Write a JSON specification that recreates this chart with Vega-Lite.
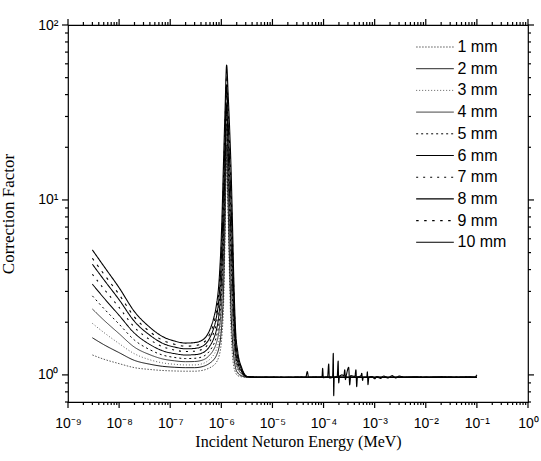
{
  "$schema": "https://vega.github.io/schema/vega-lite/v6.json",
  "width": 460,
  "height": 377,
  "autosize": {"type": "none"},
  "padding": {"left": 68, "top": 25, "right": 13, "bottom": 59},
  "background": "white",
  "config": {
    "view": {"stroke": "black", "strokeWidth": 1.2},
    "axis": {"domainColor": "black", "domainWidth": 1.2, "labelColor": "black", "titleColor": "black", "grid": false, "labelOverlap": false, "labelBound": false, "labelFlush": false},
    "legend": {"orient": "none", "legendX": 347.5, "legendY": 14, "title": null, "padding": 0, "symbolType": "stroke", "symbolSize": 1420, "clipHeight": 16, "labelFont": "Liberation Sans", "labelFontSize": 16, "labelColor": "black", "rowPadding": 5.7, "labelOffset": 3}
  },
  "datasets": {
    "curves": [
      {"E":3e-9,"F":1.30,"s":"1 mm"},{"E":5e-9,"F":1.23,"s":"1 mm"},{"E":1e-8,"F":1.16,"s":"1 mm"},{"E":2e-8,"F":1.10,"s":"1 mm"},{"E":4e-8,"F":1.074,"s":"1 mm"},{"E":7e-8,"F":1.06,"s":"1 mm"},{"E":1.2e-7,"F":1.053,"s":"1 mm"},{"E":2e-7,"F":1.05,"s":"1 mm"},{"E":3e-7,"F":1.05,"s":"1 mm"},{"E":4.5e-7,"F":1.065,"s":"1 mm"},{"E":6e-7,"F":1.10,"s":"1 mm"},{"E":7e-7,"F":1.13,"s":"1 mm"},{"E":8e-7,"F":1.18,"s":"1 mm"},{"E":9e-7,"F":1.28,"s":"1 mm"},{"E":9.7e-7,"F":1.42,"s":"1 mm"},{"E":1.03e-6,"F":1.70,"s":"1 mm"},{"E":1.1e-6,"F":2.40,"s":"1 mm"},{"E":1.18e-6,"F":6.0,"s":"1 mm"},{"E":1.27e-6,"F":18,"s":"1 mm"},{"E":1.36e-6,"F":8.0,"s":"1 mm"},{"E":1.45e-6,"F":3.5,"s":"1 mm"},{"E":1.55e-6,"F":1.80,"s":"1 mm"},{"E":1.65e-6,"F":1.30,"s":"1 mm"},{"E":1.75e-6,"F":1.12,"s":"1 mm"},{"E":1.9e-6,"F":1.03,"s":"1 mm"},{"E":2.1e-6,"F":0.99,"s":"1 mm"},{"E":2.5e-6,"F":0.975,"s":"1 mm"},{"E":3.2e-6,"F":0.97,"s":"1 mm"},{"E":5e-6,"F":0.97,"s":"1 mm"},{"E":1e-5,"F":0.968,"s":"1 mm"},{"E":1e-4,"F":0.97,"s":"1 mm"},{"E":1e-3,"F":0.968,"s":"1 mm"},{"E":1e-2,"F":0.97,"s":"1 mm"},{"E":0.1,"F":0.97,"s":"1 mm"},

      {"E":3e-9,"F":1.63,"s":"2 mm"},{"E":5e-9,"F":1.49,"s":"2 mm"},{"E":1e-8,"F":1.34,"s":"2 mm"},{"E":2e-8,"F":1.21,"s":"2 mm"},{"E":4e-8,"F":1.151,"s":"2 mm"},{"E":7e-8,"F":1.12,"s":"2 mm"},{"E":1.2e-7,"F":1.106,"s":"2 mm"},{"E":2e-7,"F":1.10,"s":"2 mm"},{"E":3e-7,"F":1.10,"s":"2 mm"},{"E":4.5e-7,"F":1.12,"s":"2 mm"},{"E":6e-7,"F":1.17,"s":"2 mm"},{"E":7e-7,"F":1.216,"s":"2 mm"},{"E":8e-7,"F":1.29,"s":"2 mm"},{"E":9e-7,"F":1.435,"s":"2 mm"},{"E":9.7e-7,"F":1.642,"s":"2 mm"},{"E":1.03e-6,"F":2.03,"s":"2 mm"},{"E":1.1e-6,"F":2.98,"s":"2 mm"},{"E":1.18e-6,"F":7.27,"s":"2 mm"},{"E":1.27e-6,"F":20.6,"s":"2 mm"},{"E":1.36e-6,"F":9.62,"s":"2 mm"},{"E":1.45e-6,"F":4.40,"s":"2 mm"},{"E":1.55e-6,"F":2.29,"s":"2 mm"},{"E":1.65e-6,"F":1.59,"s":"2 mm"},{"E":1.75e-6,"F":1.28,"s":"2 mm"},{"E":1.9e-6,"F":1.096,"s":"2 mm"},{"E":2.1e-6,"F":1.025,"s":"2 mm"},{"E":2.5e-6,"F":0.988,"s":"2 mm"},{"E":3.2e-6,"F":0.971,"s":"2 mm"},{"E":5e-6,"F":0.97,"s":"2 mm"},{"E":1e-5,"F":0.968,"s":"2 mm"},{"E":1e-4,"F":0.97,"s":"2 mm"},{"E":1e-3,"F":0.968,"s":"2 mm"},{"E":1e-2,"F":0.97,"s":"2 mm"},{"E":0.1,"F":0.97,"s":"2 mm"},

      {"E":3e-9,"F":1.97,"s":"3 mm"},{"E":5e-9,"F":1.75,"s":"3 mm"},{"E":1e-8,"F":1.51,"s":"3 mm"},{"E":2e-8,"F":1.32,"s":"3 mm"},{"E":4e-8,"F":1.22,"s":"3 mm"},{"E":7e-8,"F":1.172,"s":"3 mm"},{"E":1.2e-7,"F":1.15,"s":"3 mm"},{"E":2e-7,"F":1.14,"s":"3 mm"},{"E":3e-7,"F":1.14,"s":"3 mm"},{"E":4.5e-7,"F":1.166,"s":"3 mm"},{"E":6e-7,"F":1.231,"s":"3 mm"},{"E":7e-7,"F":1.294,"s":"3 mm"},{"E":8e-7,"F":1.395,"s":"3 mm"},{"E":9e-7,"F":1.59,"s":"3 mm"},{"E":9.7e-7,"F":1.878,"s":"3 mm"},{"E":1.03e-6,"F":2.398,"s":"3 mm"},{"E":1.1e-6,"F":3.66,"s":"3 mm"},{"E":1.18e-6,"F":8.70,"s":"3 mm"},{"E":1.27e-6,"F":23.4,"s":"3 mm"},{"E":1.36e-6,"F":11.4,"s":"3 mm"},{"E":1.45e-6,"F":5.47,"s":"3 mm"},{"E":1.55e-6,"F":2.88,"s":"3 mm"},{"E":1.65e-6,"F":1.92,"s":"3 mm"},{"E":1.75e-6,"F":1.45,"s":"3 mm"},{"E":1.9e-6,"F":1.166,"s":"3 mm"},{"E":2.1e-6,"F":1.061,"s":"3 mm"},{"E":2.5e-6,"F":1.002,"s":"3 mm"},{"E":3.2e-6,"F":0.972,"s":"3 mm"},{"E":5e-6,"F":0.97,"s":"3 mm"},{"E":1e-5,"F":0.968,"s":"3 mm"},{"E":1e-4,"F":0.97,"s":"3 mm"},{"E":1e-3,"F":0.968,"s":"3 mm"},{"E":1e-2,"F":0.97,"s":"3 mm"},{"E":0.1,"F":0.97,"s":"3 mm"},

      {"E":3e-9,"F":2.38,"s":"4 mm"},{"E":5e-9,"F":2.06,"s":"4 mm"},{"E":1e-8,"F":1.72,"s":"4 mm"},{"E":2e-8,"F":1.44,"s":"4 mm"},{"E":4e-8,"F":1.304,"s":"4 mm"},{"E":7e-8,"F":1.235,"s":"4 mm"},{"E":1.2e-7,"F":1.204,"s":"4 mm"},{"E":2e-7,"F":1.19,"s":"4 mm"},{"E":3e-7,"F":1.193,"s":"4 mm"},{"E":4.5e-7,"F":1.222,"s":"4 mm"},{"E":6e-7,"F":1.304,"s":"4 mm"},{"E":7e-7,"F":1.387,"s":"4 mm"},{"E":8e-7,"F":1.519,"s":"4 mm"},{"E":9e-7,"F":1.776,"s":"4 mm"},{"E":9.7e-7,"F":2.164,"s":"4 mm"},{"E":1.03e-6,"F":2.854,"s":"4 mm"},{"E":1.1e-6,"F":4.53,"s":"4 mm"},{"E":1.18e-6,"F":10.5,"s":"4 mm"},{"E":1.27e-6,"F":26.8,"s":"4 mm"},{"E":1.36e-6,"F":13.7,"s":"4 mm"},{"E":1.45e-6,"F":6.84,"s":"4 mm"},{"E":1.55e-6,"F":3.66,"s":"4 mm"},{"E":1.65e-6,"F":2.34,"s":"4 mm"},{"E":1.75e-6,"F":1.66,"s":"4 mm"},{"E":1.9e-6,"F":1.241,"s":"4 mm"},{"E":2.1e-6,"F":1.098,"s":"4 mm"},{"E":2.5e-6,"F":1.015,"s":"4 mm"},{"E":3.2e-6,"F":0.973,"s":"4 mm"},{"E":5e-6,"F":0.97,"s":"4 mm"},{"E":1e-5,"F":0.968,"s":"4 mm"},{"E":1e-4,"F":0.97,"s":"4 mm"},{"E":1e-3,"F":0.968,"s":"4 mm"},{"E":1e-2,"F":0.97,"s":"4 mm"},{"E":0.1,"F":0.97,"s":"4 mm"},

      {"E":3e-9,"F":2.83,"s":"5 mm"},{"E":5e-9,"F":2.40,"s":"5 mm"},{"E":1e-8,"F":1.95,"s":"5 mm"},{"E":2e-8,"F":1.58,"s":"5 mm"},{"E":4e-8,"F":1.393,"s":"5 mm"},{"E":7e-8,"F":1.30,"s":"5 mm"},{"E":1.2e-7,"F":1.259,"s":"5 mm"},{"E":2e-7,"F":1.24,"s":"5 mm"},{"E":3e-7,"F":1.244,"s":"5 mm"},{"E":4.5e-7,"F":1.279,"s":"5 mm"},{"E":6e-7,"F":1.379,"s":"5 mm"},{"E":7e-7,"F":1.485,"s":"5 mm"},{"E":8e-7,"F":1.651,"s":"5 mm"},{"E":9e-7,"F":1.98,"s":"5 mm"},{"E":9.7e-7,"F":2.489,"s":"5 mm"},{"E":1.03e-6,"F":3.39,"s":"5 mm"},{"E":1.1e-6,"F":5.59,"s":"5 mm"},{"E":1.18e-6,"F":12.65,"s":"5 mm"},{"E":1.27e-6,"F":30.6,"s":"5 mm"},{"E":1.36e-6,"F":16.4,"s":"5 mm"},{"E":1.45e-6,"F":8.55,"s":"5 mm"},{"E":1.55e-6,"F":4.63,"s":"5 mm"},{"E":1.65e-6,"F":2.84,"s":"5 mm"},{"E":1.75e-6,"F":1.885,"s":"5 mm"},{"E":1.9e-6,"F":1.32,"s":"5 mm"},{"E":2.1e-6,"F":1.136,"s":"5 mm"},{"E":2.5e-6,"F":1.029,"s":"5 mm"},{"E":3.2e-6,"F":0.974,"s":"5 mm"},{"E":5e-6,"F":0.97,"s":"5 mm"},{"E":1e-5,"F":0.968,"s":"5 mm"},{"E":1e-4,"F":0.97,"s":"5 mm"},{"E":1e-3,"F":0.968,"s":"5 mm"},{"E":1e-2,"F":0.97,"s":"5 mm"},{"E":0.1,"F":0.97,"s":"5 mm"},

      {"E":3e-9,"F":3.30,"s":"6 mm"},{"E":5e-9,"F":2.76,"s":"6 mm"},{"E":1e-8,"F":2.19,"s":"6 mm"},{"E":2e-8,"F":1.73,"s":"6 mm"},{"E":4e-8,"F":1.492,"s":"6 mm"},{"E":7e-8,"F":1.376,"s":"6 mm"},{"E":1.2e-7,"F":1.324,"s":"6 mm"},{"E":2e-7,"F":1.30,"s":"6 mm"},{"E":3e-7,"F":1.305,"s":"6 mm"},{"E":4.5e-7,"F":1.346,"s":"6 mm"},{"E":6e-7,"F":1.467,"s":"6 mm"},{"E":7e-7,"F":1.598,"s":"6 mm"},{"E":8e-7,"F":1.805,"s":"6 mm"},{"E":9e-7,"F":2.22,"s":"6 mm"},{"E":9.7e-7,"F":2.88,"s":"6 mm"},{"E":1.03e-6,"F":4.05,"s":"6 mm"},{"E":1.1e-6,"F":6.94,"s":"6 mm"},{"E":1.18e-6,"F":15.3,"s":"6 mm"},{"E":1.27e-6,"F":35.1,"s":"6 mm"},{"E":1.36e-6,"F":19.7,"s":"6 mm"},{"E":1.45e-6,"F":10.75,"s":"6 mm"},{"E":1.55e-6,"F":5.89,"s":"6 mm"},{"E":1.65e-6,"F":3.47,"s":"6 mm"},{"E":1.75e-6,"F":2.16,"s":"6 mm"},{"E":1.9e-6,"F":1.405,"s":"6 mm"},{"E":2.1e-6,"F":1.176,"s":"6 mm"},{"E":2.5e-6,"F":1.043,"s":"6 mm"},{"E":3.2e-6,"F":0.976,"s":"6 mm"},{"E":5e-6,"F":0.97,"s":"6 mm"},{"E":1e-5,"F":0.968,"s":"6 mm"},{"E":1e-4,"F":0.97,"s":"6 mm"},{"E":1e-3,"F":0.968,"s":"6 mm"},{"E":1e-2,"F":0.97,"s":"6 mm"},{"E":0.1,"F":0.97,"s":"6 mm"},

      {"E":3e-9,"F":3.76,"s":"7 mm"},{"E":5e-9,"F":3.11,"s":"7 mm"},{"E":1e-8,"F":2.43,"s":"7 mm"},{"E":2e-8,"F":1.87,"s":"7 mm"},{"E":4e-8,"F":1.59,"s":"7 mm"},{"E":7e-8,"F":1.451,"s":"7 mm"},{"E":1.2e-7,"F":1.389,"s":"7 mm"},{"E":2e-7,"F":1.36,"s":"7 mm"},{"E":3e-7,"F":1.366,"s":"7 mm"},{"E":4.5e-7,"F":1.414,"s":"7 mm"},{"E":6e-7,"F":1.557,"s":"7 mm"},{"E":7e-7,"F":1.718,"s":"7 mm"},{"E":8e-7,"F":1.97,"s":"7 mm"},{"E":9e-7,"F":2.485,"s":"7 mm"},{"E":9.7e-7,"F":3.33,"s":"7 mm"},{"E":1.03e-6,"F":4.83,"s":"7 mm"},{"E":1.1e-6,"F":8.61,"s":"7 mm"},{"E":1.18e-6,"F":18.5,"s":"7 mm"},{"E":1.27e-6,"F":40.2,"s":"7 mm"},{"E":1.36e-6,"F":23.7,"s":"7 mm"},{"E":1.45e-6,"F":13.5,"s":"7 mm"},{"E":1.55e-6,"F":7.49,"s":"7 mm"},{"E":1.65e-6,"F":4.23,"s":"7 mm"},{"E":1.75e-6,"F":2.47,"s":"7 mm"},{"E":1.9e-6,"F":1.494,"s":"7 mm"},{"E":2.1e-6,"F":1.217,"s":"7 mm"},{"E":2.5e-6,"F":1.057,"s":"7 mm"},{"E":3.2e-6,"F":0.977,"s":"7 mm"},{"E":5e-6,"F":0.97,"s":"7 mm"},{"E":1e-5,"F":0.968,"s":"7 mm"},{"E":1e-4,"F":0.97,"s":"7 mm"},{"E":1e-3,"F":0.968,"s":"7 mm"},{"E":1e-2,"F":0.97,"s":"7 mm"},{"E":0.1,"F":0.97,"s":"7 mm"},

      {"E":3e-9,"F":4.29,"s":"8 mm"},{"E":5e-9,"F":3.51,"s":"8 mm"},{"E":1e-8,"F":2.69,"s":"8 mm"},{"E":2e-8,"F":2.02,"s":"8 mm"},{"E":4e-8,"F":1.686,"s":"8 mm"},{"E":7e-8,"F":1.519,"s":"8 mm"},{"E":1.2e-7,"F":1.445,"s":"8 mm"},{"E":2e-7,"F":1.41,"s":"8 mm"},{"E":3e-7,"F":1.417,"s":"8 mm"},{"E":4.5e-7,"F":1.472,"s":"8 mm"},{"E":6e-7,"F":1.639,"s":"8 mm"},{"E":7e-7,"F":1.829,"s":"8 mm"},{"E":8e-7,"F":2.131,"s":"8 mm"},{"E":9e-7,"F":2.756,"s":"8 mm"},{"E":9.7e-7,"F":3.81,"s":"8 mm"},{"E":1.03e-6,"F":5.71,"s":"8 mm"},{"E":1.1e-6,"F":10.6,"s":"8 mm"},{"E":1.18e-6,"F":22.2,"s":"8 mm"},{"E":1.27e-6,"F":45.6,"s":"8 mm"},{"E":1.36e-6,"F":28.2,"s":"8 mm"},{"E":1.45e-6,"F":16.8,"s":"8 mm"},{"E":1.55e-6,"F":9.43,"s":"8 mm"},{"E":1.65e-6,"F":5.12,"s":"8 mm"},{"E":1.75e-6,"F":2.80,"s":"8 mm"},{"E":1.9e-6,"F":1.59,"s":"8 mm"},{"E":2.1e-6,"F":1.26,"s":"8 mm"},{"E":2.5e-6,"F":1.071,"s":"8 mm"},{"E":3.2e-6,"F":0.978,"s":"8 mm"},{"E":5e-6,"F":0.97,"s":"8 mm"},{"E":1e-5,"F":0.968,"s":"8 mm"},{"E":1e-4,"F":0.97,"s":"8 mm"},{"E":1e-3,"F":0.968,"s":"8 mm"},{"E":1e-2,"F":0.97,"s":"8 mm"},{"E":0.1,"F":0.97,"s":"8 mm"},

      {"E":3e-9,"F":4.64,"s":"9 mm"},{"E":5e-9,"F":3.78,"s":"9 mm"},{"E":1e-8,"F":2.88,"s":"9 mm"},{"E":2e-8,"F":2.14,"s":"9 mm"},{"E":4e-8,"F":1.765,"s":"9 mm"},{"E":7e-8,"F":1.581,"s":"9 mm"},{"E":1.2e-7,"F":1.498,"s":"9 mm"},{"E":2e-7,"F":1.46,"s":"9 mm"},{"E":3e-7,"F":1.469,"s":"9 mm"},{"E":4.5e-7,"F":1.531,"s":"9 mm"},{"E":6e-7,"F":1.722,"s":"9 mm"},{"E":7e-7,"F":1.945,"s":"9 mm"},{"E":8e-7,"F":2.302,"s":"9 mm"},{"E":9e-7,"F":3.053,"s":"9 mm"},{"E":9.7e-7,"F":4.35,"s":"9 mm"},{"E":1.03e-6,"F":6.74,"s":"9 mm"},{"E":1.1e-6,"F":13.0,"s":"9 mm"},{"E":1.18e-6,"F":26.6,"s":"9 mm"},{"E":1.27e-6,"F":51.8,"s":"9 mm"},{"E":1.36e-6,"F":33.5,"s":"9 mm"},{"E":1.45e-6,"F":20.8,"s":"9 mm"},{"E":1.55e-6,"F":11.9,"s":"9 mm"},{"E":1.65e-6,"F":6.18,"s":"9 mm"},{"E":1.75e-6,"F":3.16,"s":"9 mm"},{"E":1.9e-6,"F":1.692,"s":"9 mm"},{"E":2.1e-6,"F":1.304,"s":"9 mm"},{"E":2.5e-6,"F":1.085,"s":"9 mm"},{"E":3.2e-6,"F":0.979,"s":"9 mm"},{"E":5e-6,"F":0.97,"s":"9 mm"},{"E":1e-5,"F":0.968,"s":"9 mm"},{"E":1e-4,"F":0.97,"s":"9 mm"},{"E":1e-3,"F":0.968,"s":"9 mm"},{"E":1e-2,"F":0.97,"s":"9 mm"},{"E":0.1,"F":0.97,"s":"9 mm"},

      {"E":3e-9,"F":5.18,"s":"10 mm"},{"E":5e-9,"F":4.19,"s":"10 mm"},{"E":1e-8,"F":3.15,"s":"10 mm"},{"E":2e-8,"F":2.30,"s":"10 mm"},{"E":4e-8,"F":1.871,"s":"10 mm"},{"E":7e-8,"F":1.659,"s":"10 mm"},{"E":1.2e-7,"F":1.564,"s":"10 mm"},{"E":2e-7,"F":1.52,"s":"10 mm"},{"E":3e-7,"F":1.53,"s":"10 mm"},{"E":4.5e-7,"F":1.60,"s":"10 mm"},{"E":6e-7,"F":1.82,"s":"10 mm"},{"E":7e-7,"F":2.08,"s":"10 mm"},{"E":8e-7,"F":2.50,"s":"10 mm"},{"E":9e-7,"F":3.40,"s":"10 mm"},{"E":9.7e-7,"F":5.0,"s":"10 mm"},{"E":1.03e-6,"F":8.0,"s":"10 mm"},{"E":1.1e-6,"F":16,"s":"10 mm"},{"E":1.18e-6,"F":32,"s":"10 mm"},{"E":1.27e-6,"F":59,"s":"10 mm"},{"E":1.36e-6,"F":40,"s":"10 mm"},{"E":1.45e-6,"F":26,"s":"10 mm"},{"E":1.55e-6,"F":15,"s":"10 mm"},{"E":1.65e-6,"F":7.5,"s":"10 mm"},{"E":1.75e-6,"F":3.6,"s":"10 mm"},{"E":1.9e-6,"F":1.80,"s":"10 mm"},{"E":2.1e-6,"F":1.35,"s":"10 mm"},{"E":2.5e-6,"F":1.10,"s":"10 mm"},{"E":3.2e-6,"F":0.98,"s":"10 mm"},
      {"E":5e-6,"F":0.97,"s":"10 mm"},{"E":1e-5,"F":0.972,"s":"10 mm"},{"E":2e-5,"F":0.968,"s":"10 mm"},{"E":3.5e-5,"F":0.972,"s":"10 mm"},{"E":4.5e-5,"F":0.97,"s":"10 mm"},{"E":4.8e-5,"F":1.045,"s":"10 mm"},{"E":5.1e-5,"F":0.97,"s":"10 mm"},{"E":8e-5,"F":0.972,"s":"10 mm"},{"E":9.3e-5,"F":0.97,"s":"10 mm"},{"E":9.6e-5,"F":1.09,"s":"10 mm"},{"E":9.9e-5,"F":0.965,"s":"10 mm"},{"E":1.2e-4,"F":0.975,"s":"10 mm"},{"E":1.26e-4,"F":1.155,"s":"10 mm"},{"E":1.3e-4,"F":0.96,"s":"10 mm"},{"E":1.5e-4,"F":0.97,"s":"10 mm"},{"E":1.55e-4,"F":1.33,"s":"10 mm"},{"E":1.58e-4,"F":0.76,"s":"10 mm"},{"E":1.62e-4,"F":0.97,"s":"10 mm"},{"E":1.85e-4,"F":0.98,"s":"10 mm"},{"E":1.93e-4,"F":1.20,"s":"10 mm"},{"E":1.98e-4,"F":0.90,"s":"10 mm"},{"E":2.05e-4,"F":0.98,"s":"10 mm"},{"E":2.3e-4,"F":1.0,"s":"10 mm"},{"E":2.5e-4,"F":0.99,"s":"10 mm"},{"E":2.6e-4,"F":1.07,"s":"10 mm"},{"E":2.68e-4,"F":0.94,"s":"10 mm"},{"E":2.8e-4,"F":1.0,"s":"10 mm"},{"E":3.1e-4,"F":1.106,"s":"10 mm"},{"E":3.25e-4,"F":0.877,"s":"10 mm"},{"E":3.4e-4,"F":0.99,"s":"10 mm"},{"E":4.1e-4,"F":0.98,"s":"10 mm"},{"E":4.3e-4,"F":1.07,"s":"10 mm"},{"E":4.45e-4,"F":0.857,"s":"10 mm"},{"E":4.6e-4,"F":0.97,"s":"10 mm"},{"E":5.4e-4,"F":0.99,"s":"10 mm"},{"E":5.6e-4,"F":1.02,"s":"10 mm"},{"E":5.8e-4,"F":0.93,"s":"10 mm"},{"E":6e-4,"F":0.97,"s":"10 mm"},{"E":7e-4,"F":0.97,"s":"10 mm"},{"E":7.2e-4,"F":1.04,"s":"10 mm"},{"E":7.4e-4,"F":0.88,"s":"10 mm"},{"E":7.7e-4,"F":0.97,"s":"10 mm"},{"E":9e-4,"F":0.98,"s":"10 mm"},{"E":1e-3,"F":0.95,"s":"10 mm"},{"E":1.1e-3,"F":0.98,"s":"10 mm"},{"E":1.3e-3,"F":0.955,"s":"10 mm"},{"E":1.5e-3,"F":0.985,"s":"10 mm"},{"E":1.8e-3,"F":0.96,"s":"10 mm"},{"E":2.2e-3,"F":0.99,"s":"10 mm"},{"E":2.6e-3,"F":0.96,"s":"10 mm"},{"E":3e-3,"F":0.985,"s":"10 mm"},{"E":4e-3,"F":0.97,"s":"10 mm"},{"E":6e-3,"F":0.975,"s":"10 mm"},{"E":1e-2,"F":0.968,"s":"10 mm"},{"E":2e-2,"F":0.975,"s":"10 mm"},{"E":4e-2,"F":0.97,"s":"10 mm"},{"E":7e-2,"F":0.975,"s":"10 mm"},{"E":9e-2,"F":0.97,"s":"10 mm"},{"E":0.1,"F":1.0,"s":"10 mm"}
    ],
    "xmaj": [{"E":1e-9},{"E":1e-8},{"E":1e-7},{"E":1e-6},{"E":1e-5},{"E":1e-4},{"E":1e-3},{"E":1e-2},{"E":0.1},{"E":1}],
    "xmin": [{"E":2e-9},{"E":3e-9},{"E":4e-9},{"E":5e-9},{"E":6e-9},{"E":7e-9},{"E":8e-9},{"E":9e-9},{"E":2e-8},{"E":3e-8},{"E":4e-8},{"E":5e-8},{"E":6e-8},{"E":7e-8},{"E":8e-8},{"E":9e-8},{"E":2e-7},{"E":3e-7},{"E":4e-7},{"E":5e-7},{"E":6e-7},{"E":7e-7},{"E":8e-7},{"E":9e-7},{"E":2e-6},{"E":3e-6},{"E":4e-6},{"E":5e-6},{"E":6e-6},{"E":7e-6},{"E":8e-6},{"E":9e-6},{"E":2e-5},{"E":3e-5},{"E":4e-5},{"E":5e-5},{"E":6e-5},{"E":7e-5},{"E":8e-5},{"E":9e-5},{"E":2e-4},{"E":3e-4},{"E":4e-4},{"E":5e-4},{"E":6e-4},{"E":7e-4},{"E":8e-4},{"E":9e-4},{"E":2e-3},{"E":3e-3},{"E":4e-3},{"E":5e-3},{"E":6e-3},{"E":7e-3},{"E":8e-3},{"E":9e-3},{"E":2e-2},{"E":3e-2},{"E":4e-2},{"E":5e-2},{"E":6e-2},{"E":7e-2},{"E":8e-2},{"E":9e-2},{"E":0.2},{"E":0.3},{"E":0.4},{"E":0.5},{"E":0.6},{"E":0.7},{"E":0.8},{"E":0.9}],
    "ymaj": [{"F":1},{"F":10},{"F":100}],
    "ymin": [{"F":0.7},{"F":0.8},{"F":0.9},{"F":2},{"F":3},{"F":4},{"F":5},{"F":6},{"F":7},{"F":8},{"F":9},{"F":20},{"F":30},{"F":40},{"F":50},{"F":60},{"F":70},{"F":80},{"F":90}]
  },
  "layer": [
    {
      "data": {"name": "curves"},
      "mark": {"type": "line", "interpolate": "monotone", "strokeCap": "butt"},
      "encoding": {
        "x": {
          "field": "E", "type": "quantitative",
          "scale": {"type": "log", "domain": [1e-9, 1], "nice": false},
          "axis": {
            "orient": "bottom",
            "title": "Incident Neturon Energy (MeV)",
            "titleFont": "Liberation Serif", "titleFontSize": 16, "titleFontWeight": "normal", "titlePadding": 3,
            "labelFont": "Liberation Sans", "labelFontSize": 14, "labelPadding": 8, "tickSize": 6, "ticks": true, "tickOpacity": 0, "domain": false,
            "values": [1e-9,1e-8,1e-7,1e-6,1e-5,1e-4,1e-3,1e-2,0.1,1],
            "labelExpr": "'10' + ['⁻⁹','⁻⁸','⁻⁷','⁻⁶','⁻⁵','⁻⁴','⁻³','⁻²','⁻¹','⁰'][round(log(datum.value)/LN10)+9]"
          }
        },
        "y": {
          "field": "F", "type": "quantitative",
          "scale": {"type": "log", "domain": [0.7, 100], "nice": false},
          "axis": {
            "orient": "left",
            "title": "Correction Factor",
            "titleFont": "Liberation Serif", "titleFontSize": 17, "titleFontWeight": "normal", "titlePadding": 20,
            "labelFont": "Liberation Sans", "labelFontSize": 14, "labelPadding": 4, "tickSize": 6, "ticks": true, "tickOpacity": 0, "domain": false,
            "values": [1,10,100],
            "labelExpr": "'10' + ['⁰','¹','²'][round(log(datum.value)/LN10)]"
          }
        },
        "color": {
          "field": "s", "type": "ordinal",
          "scale": {"domain": ["1 mm","2 mm","3 mm","4 mm","5 mm","6 mm","7 mm","8 mm","9 mm","10 mm"],
                    "range": ["#444444","#000000","#555555","#333333","#000000","#000000","#000000","#000000","#000000","#000000"]}
        },
        "strokeDash": {
          "field": "s", "type": "ordinal",
          "scale": {"domain": ["1 mm","2 mm","3 mm","4 mm","5 mm","6 mm","7 mm","8 mm","9 mm","10 mm"],
                    "range": [[1.5,1.5],[1,0],[1,2],[1,0],[2,3],[1,0],[2,5],[1,0],[2.5,5.5],[1,0]]}
        },
        "strokeWidth": {
          "field": "s", "type": "ordinal",
          "scale": {"domain": ["1 mm","2 mm","3 mm","4 mm","5 mm","6 mm","7 mm","8 mm","9 mm","10 mm"],
                    "range": [0.9,1.1,0.9,1.2,1.3,1.6,1.8,2.3,2.6,2.9]}
        }
      }
    },
    {
      "data": {"name": "xmaj"},
      "mark": {"type": "rule", "color": "black", "strokeWidth": 1.2, "clip": false},
      "encoding": {
        "x": {"field": "E", "type": "quantitative"},
        "y": {"datum": 0.7, "type": "quantitative"},
        "y2": {"datum": 0.647}
      }
    },
    {
      "data": {"name": "xmin"},
      "mark": {"type": "rule", "color": "black", "strokeWidth": 1.2, "clip": false},
      "encoding": {
        "x": {"field": "E", "type": "quantitative"},
        "y": {"datum": 0.7, "type": "quantitative"},
        "y2": {"datum": 0.673}
      }
    },
    {
      "data": {"name": "xmaj"},
      "mark": {"type": "rule", "color": "black", "strokeWidth": 1.2, "clip": false},
      "encoding": {
        "x": {"field": "E", "type": "quantitative"},
        "y": {"datum": 100, "type": "quantitative"},
        "y2": {"datum": 108.2}
      }
    },
    {
      "data": {"name": "xmin"},
      "mark": {"type": "rule", "color": "black", "strokeWidth": 1.2, "clip": false},
      "encoding": {
        "x": {"field": "E", "type": "quantitative"},
        "y": {"datum": 100, "type": "quantitative"},
        "y2": {"datum": 104}
      }
    },
    {
      "data": {"name": "ymaj"},
      "mark": {"type": "rule", "color": "black", "strokeWidth": 1.2, "clip": false},
      "encoding": {
        "y": {"field": "F", "type": "quantitative"},
        "x": {"datum": 1e-9, "type": "quantitative"},
        "x2": {"datum": 7.63e-10}
      }
    },
    {
      "data": {"name": "ymin"},
      "mark": {"type": "rule", "color": "black", "strokeWidth": 1.2, "clip": false},
      "encoding": {
        "y": {"field": "F", "type": "quantitative"},
        "x": {"datum": 1e-9, "type": "quantitative"},
        "x2": {"datum": 8.73e-10}
      }
    },
    {
      "data": {"name": "ymaj"},
      "mark": {"type": "rule", "color": "black", "strokeWidth": 1.2, "clip": false},
      "encoding": {
        "y": {"field": "F", "type": "quantitative"},
        "x": {"datum": 1, "type": "quantitative"},
        "x2": {"datum": 1.31}
      }
    },
    {
      "data": {"name": "ymin"},
      "mark": {"type": "rule", "color": "black", "strokeWidth": 1.2, "clip": false},
      "encoding": {
        "y": {"field": "F", "type": "quantitative"},
        "x": {"datum": 1, "type": "quantitative"},
        "x2": {"datum": 1.145}
      }
    }
  ]
}
